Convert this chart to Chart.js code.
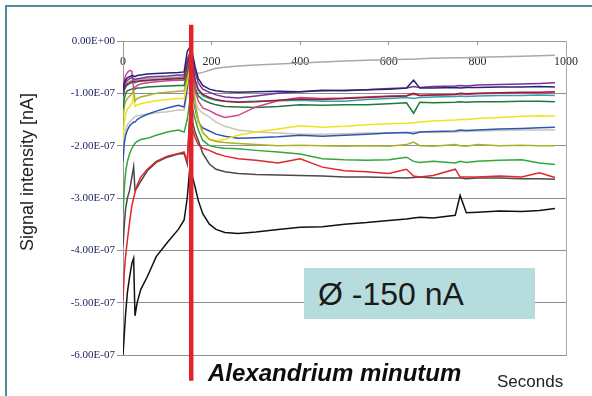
<!DOCTYPE html>
<html>
<head>
<meta charset="utf-8">
<script src="https://cdn.jsdelivr.net/npm/chart.js@4.4.1/dist/chart.umd.min.js"></script>
<style>
  html,body{margin:0;padding:0;background:#fff;}
  #wrap{position:relative;width:592px;height:396px;overflow:hidden;background:#fff;}
  #frame{position:absolute;left:5px;top:5px;width:700px;height:500px;border-top:2px solid #4d8e9e;border-left:2px solid #4d8e9e;}
  canvas{position:absolute;left:0;top:0;}
  .t{position:absolute;white-space:nowrap;font-family:"Liberation Sans",Arial,sans-serif;color:#111;line-height:1;}
  #ytitle{left:-53px;top:162px;width:160px;height:20px;line-height:20px;text-align:center;font-size:18px;transform:rotate(-90deg);transform-origin:50% 50%;color:#222;}
  #species{left:208px;top:361px;font-size:24px;font-weight:bold;font-style:italic;color:#0d0d0d;}
  #seconds{left:497px;top:373px;font-size:17px;color:#222;}
  #box{position:absolute;left:304px;top:268px;width:231px;height:51px;background:#b6dcdd;}
  #boxtxt{left:318px;top:278px;font-size:32px;color:#1a1a1a;}
</style>
</head>
<body>
<div id="wrap">
  <div id="frame"></div>
  <canvas id="c" width="592" height="396"></canvas>
  <div class="t" id="ytitle">Signal intensity [nA]</div>
  <div class="t" id="species">Alexandrium minutum</div>
  <div class="t" id="seconds">Seconds</div>
  <div id="box"></div>
  <div class="t" id="boxtxt">Ø -150 nA</div>
</div>
<script>
// time in seconds
const T = [0,3,6,10,15,20,24,27,32,40,55,75,100,125,138,145,150,157,163,170,180,195,210,230,260,300,350,400,450,500,550,600,640,656,670,700,750,761,775,800,850,900,940,975];
// signal values in units of 1E-07 A
const navy = [-0.95,-0.80,-0.74,-0.70,-0.68,-0.66,-0.67,-0.68,-0.66,-0.65,
 -0.63,-0.62,-0.61,-0.60,-0.59,-0.20,-0.13,-0.25,-0.50,-0.72,
 -0.85,-0.92,-0.95,-0.97,-0.98,-0.97,-0.96,-0.97,-0.94,-0.95,
 -0.93,-0.92,-0.90,-0.75,-0.90,-0.90,-0.89,-0.90,-0.89,-0.89,
 -0.88,-0.88,-0.87,-0.88];
const purple = [-1.00,-0.85,-0.78,-0.75,-0.72,-0.70,-0.72,-0.74,-0.72,-0.71,
 -0.69,-0.68,-0.67,-0.65,-0.65,-0.35,-0.25,-0.35,-0.60,-0.80,
 -0.92,-0.98,-1.03,-1.07,-1.09,-1.05,-1.00,-0.97,-0.95,-0.94,
 -0.93,-0.91,-0.90,-0.87,-0.89,-0.87,-0.86,-0.85,-0.86,-0.84,
 -0.83,-0.82,-0.81,-0.80];
const maroon = [-1.05,-0.92,-0.86,-0.82,-0.80,-0.78,-0.77,-0.78,-0.77,-0.76,
 -0.75,-0.74,-0.73,-0.72,-0.72,-0.45,-0.30,-0.45,-0.75,-0.92,
 -1.02,-1.08,-1.12,-1.15,-1.17,-1.16,-1.13,-1.11,-1.12,-1.10,
 -1.08,-1.06,-1.05,-1.00,-1.04,-1.03,-1.02,-1.00,-1.01,-1.00,
 -0.99,-0.98,-0.98,-0.97];
const magenta = [-0.95,-0.75,-0.65,-0.60,-0.56,-0.58,-0.92,-0.88,-0.85,-0.82,
 -0.80,-0.78,-0.76,-0.75,-0.75,-0.50,-0.35,-0.60,-0.95,-1.15,
 -1.28,-1.33,-1.40,-1.46,-1.42,-1.26,-1.14,-1.08,-1.10,-1.09,
 -1.07,-1.05,-1.04,-1.02,-1.04,-1.03,-1.02,-1.01,-1.02,-1.01,
 -1.00,-1.00,-0.99,-1.00];
const teal = [-1.10,-0.95,-0.88,-0.84,-0.82,-0.80,-0.79,-0.80,-0.78,-0.77,
 -0.76,-0.74,-0.72,-0.70,-0.70,-0.45,-0.30,-0.50,-0.80,-0.95,
 -1.05,-1.10,-1.13,-1.15,-1.16,-1.15,-1.14,-1.13,-1.15,-1.15,
 -1.12,-1.10,-1.08,-1.10,-1.08,-1.07,-1.06,-1.05,-1.06,-1.05,
 -1.04,-1.04,-1.03,-1.04];
const darkGreen = [-1.30,-1.10,-1.00,-0.95,-0.93,-0.92,-0.90,-0.92,-0.90,-0.90,
 -0.88,-0.87,-0.86,-0.85,-0.85,-0.60,-0.40,-0.60,-0.90,-1.05,
 -1.12,-1.18,-1.22,-1.25,-1.26,-1.27,-1.25,-1.22,-1.23,-1.22,
 -1.22,-1.20,-1.18,-1.38,-1.17,-1.18,-1.17,-1.16,-1.17,-1.16,
 -1.16,-1.15,-1.15,-1.16];
const yellow = [-1.90,-1.55,-1.40,-1.30,-1.25,-1.20,-1.05,-1.25,-1.22,-1.20,
 -1.17,-1.14,-1.12,-1.10,-1.10,-0.80,-0.50,-0.70,-1.20,-1.55,
 -1.75,-1.88,-1.90,-1.88,-1.80,-1.74,-1.68,-1.62,-1.65,-1.63,
 -1.60,-1.58,-1.57,-1.56,-1.55,-1.53,-1.51,-1.50,-1.50,-1.48,
 -1.46,-1.44,-1.43,-1.44];
const blue = [-2.30,-1.95,-1.80,-1.70,-1.62,-1.58,-1.55,-1.55,-1.50,-1.46,
 -1.40,-1.34,-1.28,-1.23,-1.26,-0.90,-0.55,-0.90,-1.30,-1.55,
 -1.66,-1.72,-1.78,-1.82,-1.86,-1.85,-1.83,-1.80,-1.82,-1.80,
 -1.78,-1.76,-1.75,-1.77,-1.74,-1.73,-1.72,-1.70,-1.71,-1.70,
 -1.68,-1.67,-1.66,-1.65];
const tan = [-2.10,-1.85,-1.70,-1.60,-1.55,-1.50,-1.47,-1.45,-1.43,-1.42,
 -1.40,-1.37,-1.35,-1.32,-1.32,-1.00,-0.60,-0.90,-1.15,-1.30,
 -1.38,-1.45,-1.55,-1.63,-1.70,-1.74,-1.76,-1.78,-1.78,-1.77,
 -1.76,-1.76,-1.75,-1.74,-1.74,-1.75,-1.74,-1.73,-1.73,-1.72,
 -1.71,-1.70,-1.70,-1.70];
const olive = [-1.50,-1.25,-1.15,-1.10,-1.05,-1.02,-0.92,-1.15,-1.10,-1.07,
 -1.04,-1.00,-0.98,-0.96,-0.95,-0.70,-0.45,-0.60,-1.20,-1.50,
 -1.75,-1.88,-1.92,-1.94,-1.96,-1.98,-2.00,-1.99,-2.00,-2.01,
 -2.00,-2.01,-1.98,-1.93,-2.00,-2.01,-1.98,-2.00,-2.01,-1.98,
 -2.00,-1.99,-2.00,-2.00];
const green = [-3.30,-2.80,-2.50,-2.30,-2.15,-2.05,-2.00,-1.95,-1.92,-1.88,
 -1.86,-1.80,-1.74,-1.70,-1.74,-1.50,-1.20,-1.30,-1.50,-1.70,
 -1.90,-2.00,-2.03,-2.05,-2.06,-2.09,-2.12,-2.16,-2.25,-2.27,
 -2.28,-2.27,-2.22,-2.30,-2.32,-2.30,-2.33,-2.30,-2.32,-2.30,
 -2.28,-2.27,-2.33,-2.36];
const red = [-4.95,-4.40,-4.10,-3.80,-3.45,-3.15,-3.00,-2.90,-2.75,-2.60,
 -2.45,-2.30,-2.20,-2.15,-2.12,-2.30,-1.60,-1.70,-1.85,-1.98,
 -2.05,-2.09,-2.15,-2.20,-2.25,-2.28,-2.33,-2.25,-2.41,-2.48,
 -2.50,-2.53,-2.45,-2.58,-2.60,-2.57,-2.45,-2.60,-2.60,-2.60,
 -2.58,-2.60,-2.52,-2.61];
const darkGray = [-3.90,-3.50,-3.20,-3.00,-2.85,-2.60,-2.40,-2.85,-2.80,-2.68,
 -2.48,-2.32,-2.22,-2.16,-2.15,-2.35,-1.50,-1.55,-1.75,-1.90,
 -2.15,-2.35,-2.45,-2.50,-2.53,-2.55,-2.56,-2.57,-2.58,-2.60,
 -2.60,-2.61,-2.62,-2.61,-2.60,-2.62,-2.62,-2.62,-2.63,-2.62,
 -2.62,-2.63,-2.63,-2.64];
const black = [-6.00,-5.60,-5.20,-4.80,-4.50,-4.25,-4.15,-5.25,-5.00,-4.75,
 -4.50,-4.12,-3.85,-3.60,-3.42,-3.00,-2.50,-2.60,-2.80,-3.05,
 -3.30,-3.50,-3.60,-3.66,-3.68,-3.65,-3.60,-3.56,-3.55,-3.50,
 -3.47,-3.43,-3.40,-3.38,-3.37,-3.38,-3.33,-2.95,-3.28,-3.27,
 -3.25,-3.26,-3.24,-3.20];
const lightGray = [-1.00,-0.88,-0.82,-0.79,-0.77,-0.75,-0.74,-0.75,-0.74,-0.73,
 -0.72,-0.71,-0.70,-0.69,-0.68,-0.40,-0.30,-0.45,-0.60,-0.62,
 -0.60,-0.56,-0.52,-0.50,-0.48,-0.46,-0.44,-0.42,-0.40,-0.38,
 -0.37,-0.36,-0.35,-0.35,-0.34,-0.33,-0.32,-0.32,-0.32,-0.31,
 -0.30,-0.29,-0.28,-0.27];
// injection marker (time) and its vertical extent
const injectionTime = [154, 154];
const injectionY = [0.31, -6.49];
const xTicks = [0, 200, 400, 600, 800, 1000];
const xTickLabels = ['0','200','400','600','800','1000'];
const yTickLabels = ['0.00E+00','-1.00E-07','-2.00E-07','-3.00E-07','-4.00E-07','-5.00E-07','-6.00E-07'];

const seriesList = [
  [navy,'#24246e'],[purple,'#7a2f9e'],[maroon,'#9a1f2e'],[magenta,'#d0458f'],
  [teal,'#2fa3ad'],[darkGreen,'#1e7a3c'],[lightGray,'#a9a9a9'],[olive,'#aab12a'],
  [yellow,'#f2e21a'],[blue,'#2c55b8'],[tan,'#c9c6b4'],[green,'#35a63a'],
  [red,'#e3262b'],[darkGray,'#4a4a4a'],[black,'#111111']
];
const datasets = seriesList.map(([arr,col]) => ({
  data: T.map((t,i) => ({x:t, y:arr[i]})),
  borderColor: col, borderWidth: 1.5, pointRadius: 0, tension: 0, fill: false, order: 1
}));
datasets.push({
  data: injectionTime.map((t,i) => ({x:t, y:injectionY[i]})),
  borderColor:'#e3232a', borderWidth:4.5, pointRadius:0, clip:false, order:0
});

new Chart(document.getElementById('c').getContext('2d'), {
  type:'line',
  data:{datasets},
  options:{
    responsive:false, animation:false, devicePixelRatio:1,
    layout:{padding:{left:0,top:0,right:24,bottom:41}},
    plugins:{legend:{display:false}, tooltip:{enabled:false}},
    scales:{
      x:{type:'linear', position:'top', min:0, max:1000,
        afterBuildTicks(s){ s.ticks = xTicks.map(v => ({value:v})); },
        ticks:{mirror:true, padding:14, maxRotation:0, autoSkip:false,
          callback:(v,i) => xTickLabels[i],
          font:{family:'Liberation Serif', size:12}, color:'#2a2a2a'},
        grid:{drawOnChartArea:false, drawTicks:true, tickLength:-4, color:'#999'},
        border:{display:true, color:'#999'},
        afterFit(s){ s.height = 41; }
      },
      y:{type:'linear', position:'left', min:-6, max:0,
        ticks:{stepSize:1, padding:2, callback:v => yTickLabels[Math.round(-v)],
          font:{family:'Liberation Serif', size:11}, color:'#1f2460'},
        grid:{color:'#8f8f8f', tickLength:6, lineWidth:1},
        border:{color:'#999'},
        afterFit(s){ s.width = 123; }
      },
      y2:{type:'linear', position:'right', min:-6, max:0,
        ticks:{display:false},
        grid:{drawOnChartArea:false, drawTicks:false},
        border:{display:true, color:'#aaa'},
        afterFit(s){ s.width = 0; }
      }
    }
  }
});
</script>
</body>
</html>
